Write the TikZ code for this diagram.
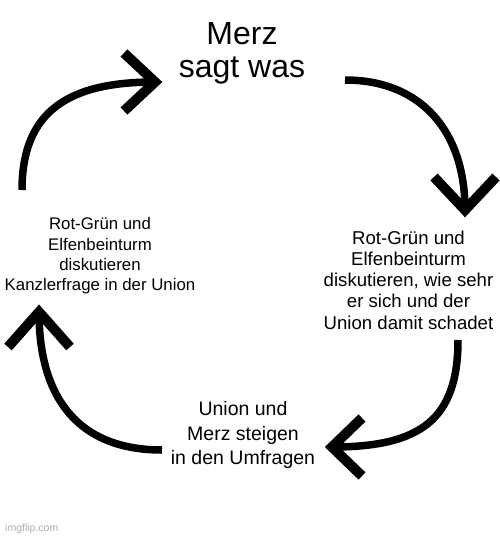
\documentclass[tikz,border=0pt]{standalone}
\usepackage{fontspec}
\setmainfont{Liberation Sans}
\usetikzlibrary{calc}
\begin{document}
\begin{tikzpicture}[x=1pt,y=-1pt,
  shaft/.style={line width=7.5pt,line cap=butt},
  chev/.style={line width=10pt,line cap=butt,line join=miter,miter limit=10},
  lbl/.style={align=center,inner sep=0pt,text=black}]
\fill[white] (0,0) rectangle (500,536);
\useasboundingbox (0,0) rectangle (500,536);

% texts
\node[lbl,font=\fontsize{32}{33}\selectfont] (merz) at (242,53) {Merz\\sagt was};
\node[lbl,font=\fontsize{16.8}{20.3}\selectfont] (left) at (100,256) {Rot-Grün und\\Elfenbeinturm\\diskutieren\\Kanzlerfrage in der Union};
\node[lbl,font=\fontsize{18.6}{21.2}\selectfont] (right) at (408.5,280) {Rot-Grün und\\Elfenbeinturm\\diskutieren, wie sehr\\er sich und der\\Union damit schadet};
\node[lbl,font=\fontsize{19.5}{24.5}\selectfont] (bottom) at (243,435) {Union und\\Merz steigen\\in den Umfragen};
\node[inner sep=0pt,anchor=base west,text=black!32,font=\fontsize{10.5}{12}\selectfont] (wm) at (5,531) {imgflip.com};

% arrow end points
\coordinate (s1) at (22,190);  \coordinate (t1) at (155,82);
\coordinate (s2) at (345,80);  \coordinate (t2) at (465,210);
\coordinate (s3) at (458,340); \coordinate (t3) at (332,447);
\coordinate (s4) at (162,450); \coordinate (t4) at (39,312);

% shafts
\draw[shaft] (s1) .. controls (22,110) and (70,82) .. (t1);
\draw[shaft] (s2) .. controls (420,80) and (465,130) .. (t2);
\draw[shaft] (s3) .. controls (458,420) and (420,447) .. (t3);
\draw[shaft] (s4) .. controls (80,450) and (39,400) .. (t4);

% chevron heads
\draw[chev] ($(t1)+(-31,-29)$) -- (t1) -- ($(t1)+(-31,29)$);
\draw[chev] ($(t2)+(-31,-33)$) -- (t2) -- ($(t2)+(31,-33)$);
\draw[chev] ($(t3)+(30,-29)$) -- (t3) -- ($(t3)+(30,29)$);
\draw[chev] ($(t4)+(-31,35)$) -- (t4) -- ($(t4)+(31,35)$);
\end{tikzpicture}
\end{document}
